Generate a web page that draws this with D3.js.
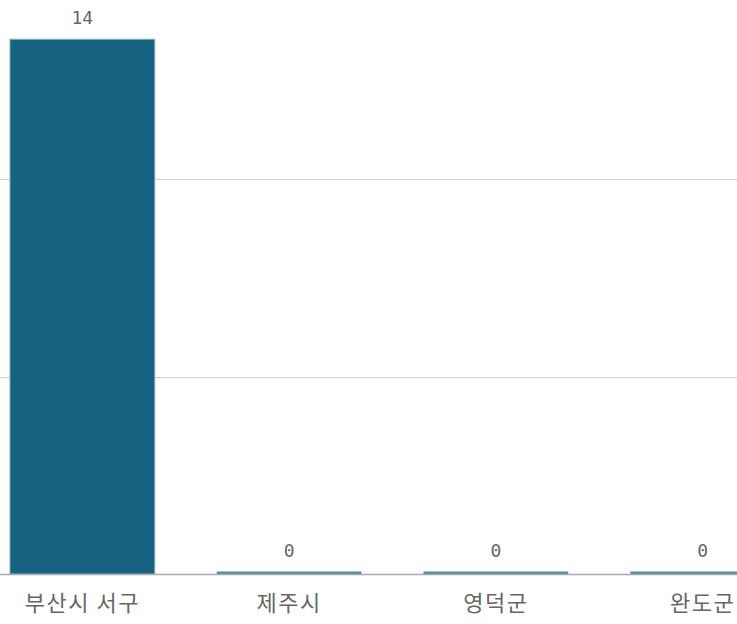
<!DOCTYPE html>
<html><head><meta charset="utf-8">
<script src="https://cdn.jsdelivr.net/npm/d3@7"></script>
<style>html,body{margin:0;padding:0;background:#fff;overflow:hidden}</style>
</head><body>
<svg id="chart" width="737" height="624"></svg>
<script>
const categories = ["부산시 서구", "제주시", "영덕군", "완도군"];
const values = [14, 0, 0, 0];
const gridFractions = [1/3, 2/3];

const svg = d3.select("#chart");
const baseY = 574;
const x = d3.scaleBand().domain(categories).range([-21, 806]).paddingInner(0.3).paddingOuter(0.15);
const y = d3.scaleLinear().domain([0, 15.5]).range([baseY, -18]);
const minH = 2.5;

// gridlines
svg.append("g").selectAll("line").data(gridFractions.map(f => f * y.domain()[1]))
  .join("line")
  .attr("x1", 0).attr("x2", 737)
  .attr("y1", d => Math.round(y(d)) + 0.5).attr("y2", d => Math.round(y(d)) + 0.5)
  .attr("stroke", "#cfcfcf").attr("stroke-width", 1);

// bars
svg.append("g").selectAll("rect").data(values)
  .join("rect")
  .attr("x", (d, i) => x(categories[i]))
  .attr("width", x.bandwidth())
  .attr("y", d => Math.min(y(d), baseY - minH))
  .attr("height", d => Math.max(baseY - y(d), minH))
  .attr("fill", d => d > 0 ? "#156380" : "#4f90a6")
  .attr("stroke", d => d > 0 ? "#7aa9bb" : "none")
  .attr("stroke-width", 1);

// baseline
svg.append("line").attr("x1", 0).attr("x2", 737)
  .attr("y1", baseY + 0.5).attr("y2", baseY + 0.5)
  .attr("stroke", "#a9a9a9").attr("stroke-width", 1.5);

// value labels
svg.append("g").selectAll("text").data(values)
  .join("text")
  .attr("x", (d, i) => x(categories[i]) + x.bandwidth() / 2)
  .attr("y", d => Math.min(y(d), baseY - minH) - 15)
  .attr("text-anchor", "middle")
  .attr("font-family", "'DejaVu Sans Mono', monospace")
  .attr("font-size", 18)
  .attr("fill", "#666")
  .text(d => d3.format("d")(d));

// category labels (axis)
const axis = d3.axisBottom(x).tickSize(0);
const g = svg.append("g").attr("transform", `translate(0,${baseY})`).call(axis);
g.select(".domain").remove();
g.selectAll("text")
  .attr("y", 37)
  .attr("dy", 0)
  .attr("font-family", "'Noto Sans CJK KR', 'Noto Sans', sans-serif")
  .attr("font-size", 22)
  .attr("letter-spacing", 1.5)
  .attr("fill", "#666");
</script>
</body></html>
